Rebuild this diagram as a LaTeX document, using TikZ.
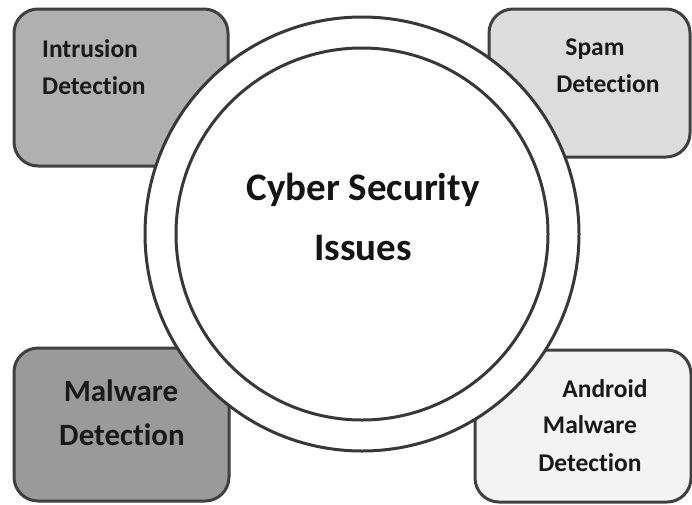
\documentclass[tikz,border=0pt]{standalone}
\usepackage{fontspec}
\setmainfont[Ligatures=NoCommon]{Carlito}
\begin{document}
\begin{tikzpicture}[x=1pt,y=-1pt,
  box/.style={draw=black!75, line width=3pt, rounded corners=24pt},
  ring/.style={draw=black!78, line width=3pt, fill=white},
  lbl/.style={font=\bfseries\fontsize{25.5}{30}\selectfont, text=black!90, inner sep=0pt, anchor=base},
  biglbl/.style={font=\bfseries\fontsize{31}{36}\selectfont, text=black!90, inner sep=0pt, anchor=base},
  title/.style={font=\bfseries\fontsize{39}{44}\selectfont, text=black!92, inner sep=0pt, anchor=base}]
\useasboundingbox[fill=white] (0,0) rectangle (692,504);
% boxes
\path[box, fill={rgb,255:red,176;green,176;blue,176}] (14,9) rectangle (228,166);
\path[box, fill={rgb,255:red,220;green,220;blue,220}] (489,9) rectangle (690,157);
\path[box, fill={rgb,255:red,154;green,154;blue,154}] (14,348) rectangle (229,501);
\path[box, fill={rgb,255:red,243;green,243;blue,243}] (475,350) rectangle (691,502);
% circles
\node[ring, circle, minimum size=434pt, inner sep=0pt] (outer) at (362,234) {};
\node[ring, circle, minimum size=372pt, inner sep=0pt] (inner) at (362,234) {};
% center text
\node[title] (t1) at (363,200) {Cyber Security};
\node[title] (t2) at (363,260) {Issues};
% box texts
\node[lbl, anchor=base west] (a1) at (42,57) {Intrusion};
\node[lbl, anchor=base west] (a2) at (42,94) {Detection};
\node[lbl] (b1) at (595,55) {Spam};
\node[lbl] (b2) at (608,92) {Detection};
\node[biglbl] (c1) at (121,401) {Malware};
\node[biglbl] (c2) at (122,445) {Detection};
\node[lbl] (d1) at (605,397) {Android};
\node[lbl] (d2) at (590,433) {Malware};
\node[lbl] (d3) at (590,471) {Detection};
\end{tikzpicture}
\end{document}
